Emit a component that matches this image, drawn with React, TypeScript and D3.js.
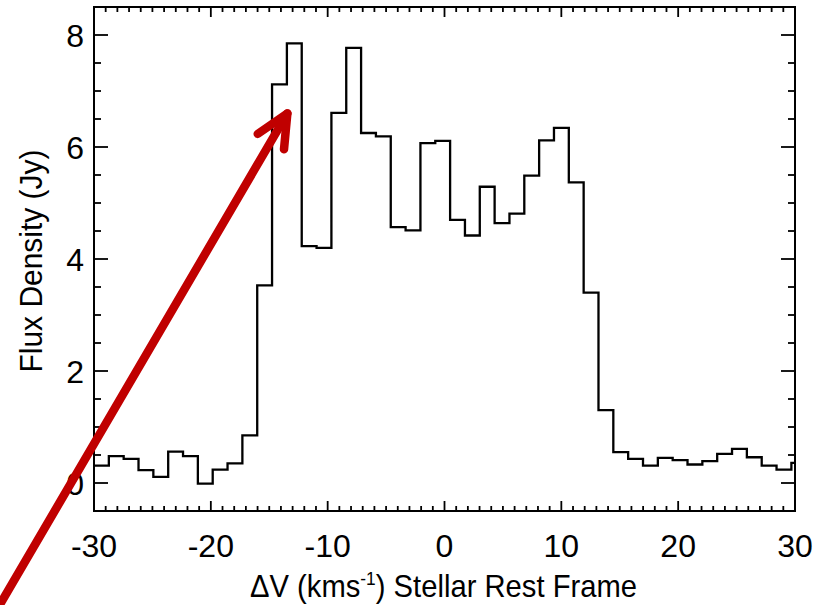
import React from "react";
import * as d3 from "d3";

// Velocity channel left edges (km/s) and flux density (Jy)
const velocityEdges = [
  -30.0, -28.73, -27.46, -26.19, -24.92, -23.65, -22.38, -21.11, -19.84, -18.57,
  -17.3, -16.03, -14.76, -13.49, -12.22, -10.95, -9.68, -8.41, -7.14, -5.87,
  -4.6, -3.33, -2.06, -0.79, 0.48, 1.75, 3.02, 4.29, 5.56, 6.83,
  8.1, 9.37, 10.64, 11.91, 13.18, 14.45, 15.72, 16.99, 18.26, 19.53,
  20.8, 22.07, 23.34, 24.61, 25.88, 27.15, 28.42, 29.69,
];
const fluxDensity = [
  0.31, 0.48, 0.43, 0.23, 0.11, 0.56, 0.48, -0.01, 0.24, 0.35,
  0.85, 3.53, 7.12, 7.85, 4.23, 4.2, 6.61, 7.77, 6.25, 6.19,
  4.57, 4.51, 6.07, 6.11, 4.7, 4.42, 5.29, 4.64, 4.81, 5.49,
  6.12, 6.34, 5.37, 3.4, 1.3, 0.55, 0.43, 0.31, 0.45, 0.41,
  0.33, 0.39, 0.52, 0.61, 0.46, 0.31, 0.24, 0.36,
];
const xTickLabels = [-30, -20, -10, 0, 10, 20, 30];
const yTickLabels = [0, 2, 4, 6, 8];
const xDomain = [-30, 30];
const yDomain = [-0.5, 8.5];
// Annotation arrow in data coordinates: tail -> tip
const arrowTail = [-38.05, -2.17];
const arrowTip = [-13.45, 6.6];

const W = 817;
const H = 605;
const left = 94, right = 795, top = 7, bottom = 511;
const FONT = "'Liberation Sans', Arial, Helvetica, sans-serif";

export default function App() {
  const x = d3.scaleLinear().domain(xDomain).range([left, right]);
  const y = d3.scaleLinear().domain(yDomain).range([bottom, top]);

  const pts: [number, number][] = velocityEdges.map((v, i) => [v, fluxDensity[i]]);
  pts.push([xDomain[1], fluxDensity[fluxDensity.length - 1]]);
  const line = d3
    .line<[number, number]>()
    .x((d) => x(d[0]))
    .y((d) => y(d[1]))
    .curve(d3.curveStepAfter);

  const xMinor = d3.range(-30, 30.001, 1);
  const yMinor = d3.range(-0.5, 8.5001, 0.5);

  const tx = x(arrowTip[0]), ty = y(arrowTip[1]);
  const sx = x(arrowTail[0]), sy = y(arrowTail[1]);
  const len = Math.hypot(sx - tx, sy - ty);
  const ux = (sx - tx) / len, uy = (sy - ty) / len;
  const ang = (25 * Math.PI) / 180;
  const bl = 36;
  const rot = (a: number) => [
    tx + bl * (ux * Math.cos(a) - uy * Math.sin(a)),
    ty + bl * (ux * Math.sin(a) + uy * Math.cos(a)),
  ];
  const b1 = rot(ang);
  const b2 = rot(-ang);

  const xMajLen = 10, xMinLen = 5, yMajLen = 14, yMinLen = 7;

  return (
    <svg
      width={W}
      height={H}
      style={{ position: "absolute", left: 0, top: 0, background: "#fff" }}
      fontFamily={FONT}
    >
      <rect x={0} y={0} width={W} height={H} fill="#fff" />
      <clipPath id="plotclip">
        <rect x={left} y={top} width={right - left} height={bottom - top} />
      </clipPath>
      <path
        d={line(pts) || ""}
        fill="none"
        stroke="#000"
        strokeWidth={2.3}
        clipPath="url(#plotclip)"
      />
      {/* frame */}
      <rect
        x={left}
        y={top}
        width={right - left}
        height={bottom - top}
        fill="none"
        stroke="#000"
        strokeWidth={2}
      />
      {/* x ticks */}
      {xMinor.map((v) => {
        const major = Math.abs(v % 10) < 1e-6;
        const L = major ? xMajLen : xMinLen;
        return (
          <g key={"xt" + v}>
            <line x1={x(v)} x2={x(v)} y1={bottom} y2={bottom - L} stroke="#000" strokeWidth={1.8} />
            <line x1={x(v)} x2={x(v)} y1={top} y2={top + L} stroke="#000" strokeWidth={1.8} />
          </g>
        );
      })}
      {yMinor.map((v) => {
        const major = yTickLabels.includes(v);
        const L = major ? yMajLen : yMinLen;
        return (
          <g key={"yt" + v}>
            <line x1={left} x2={left + L} y1={y(v)} y2={y(v)} stroke="#000" strokeWidth={1.8} />
            <line x1={right} x2={right - L} y1={y(v)} y2={y(v)} stroke="#000" strokeWidth={1.8} />
          </g>
        );
      })}
      {xTickLabels.map((v) => (
        <text key={"xl" + v} x={x(v)} y={557} fontSize={32} textAnchor="middle" fill="#000">
          {v}
        </text>
      ))}
      {yTickLabels.map((v) => (
        <text key={"yl" + v} x={84} y={y(v) + 11.5} fontSize={32} textAnchor="end" fill="#000">
          {v}
        </text>
      ))}
      <text
        x={250}
        y={597}
        fontSize={32}
        fill="#000"
        textLength={387}
        lengthAdjust="spacingAndGlyphs"
      >
        {"\u0394V (kms"}
        <tspan fontSize={19} dy={-12}>-1</tspan>
        <tspan dy={12}>{") Stellar Rest Frame"}</tspan>
      </text>
      <text
        transform={`translate(42, ${(top + bottom) / 2 + 2}) rotate(-90)`}
        fontSize={32}
        textAnchor="middle"
        fill="#000"
        textLength={223}
        lengthAdjust="spacingAndGlyphs"
      >
        Flux Density (Jy)
      </text>
      {/* annotation arrow */}
      <line x1={sx} y1={sy} x2={tx} y2={ty} stroke="#c00000" strokeWidth={8.5} strokeLinecap="round" />
      <polyline
        points={`${b1[0]},${b1[1]} ${tx},${ty} ${b2[0]},${b2[1]}`}
        fill="none"
        stroke="#c00000"
        strokeWidth={8.5}
        strokeLinecap="round"
        strokeLinejoin="round"
      />
    </svg>
  );
}
